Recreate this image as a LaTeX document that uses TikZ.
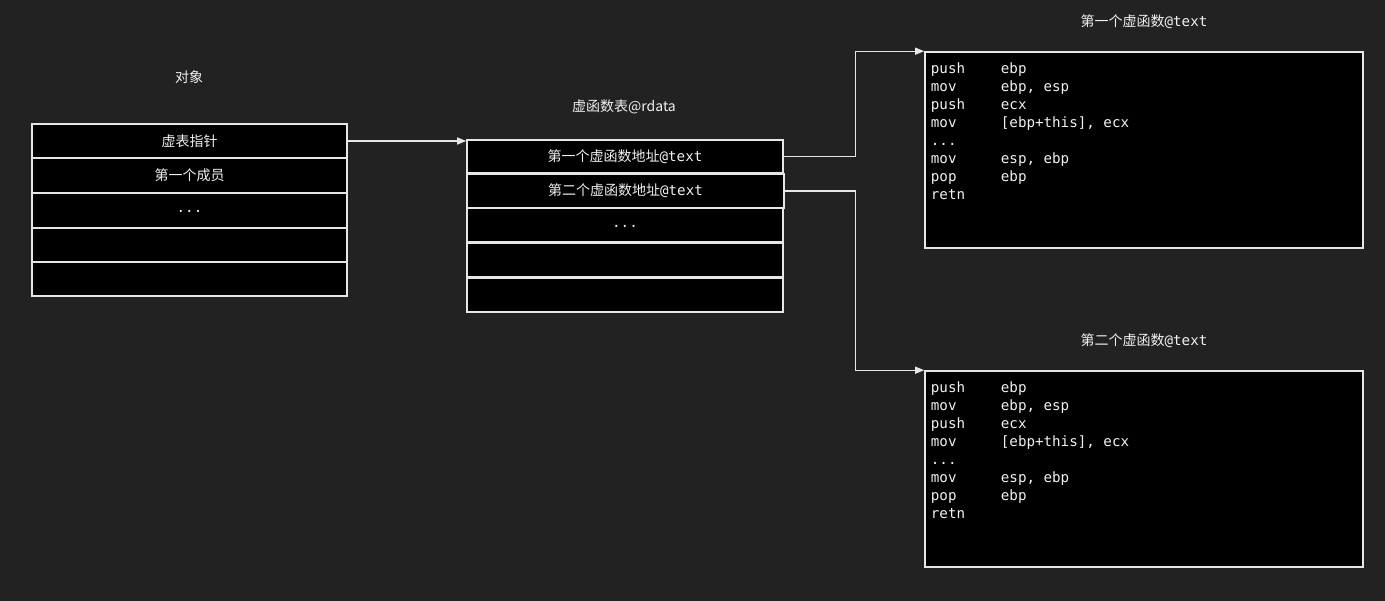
\documentclass[tikz,border=0pt]{standalone}
\usepackage{fontspec}
\usetikzlibrary{arrows.meta,calc}
\setmainfont{Noto Sans CJK SC}
\newfontfamily\cjkf{Noto Sans CJK SC}
\newfontfamily\codef{DejaVu Sans Mono}
\definecolor{bgc}{RGB}{34,34,34}
\definecolor{linec}{RGB}{230,230,230}
\definecolor{txtc}{RGB}{240,240,240}
\newcommand{\cjktxt}{\cjkf\fontsize{14}{16}\selectfont}
\newcommand{\codetxt}{\codef\fontsize{14.2}{18}\selectfont}
\newcommand{\tdots}{.{}.{}.}
\newcommand{\celldots}{\raisebox{-2.5pt}[0pt][0pt]{\codetxt\tdots}}
\begin{document}
\begin{tikzpicture}[x=1pt,y=-1pt,
  cell/.style={draw=linec,fill=black,line width=1.6pt,inner sep=0pt,text=txtc,font=\cjktxt},
  codebox/.style={draw=linec,fill=black,line width=1.6pt,inner sep=0pt,minimum width=438pt,minimum height=196pt},
  lbl/.style={text=txtc,font=\cjktxt,inner sep=0pt},
  codeln/.style={text=txtc,font=\codetxt,inner sep=0pt,anchor=base west},
  link/.style={draw=linec,line width=1.3pt,-{Triangle[length=9pt,width=7pt]}}]
\fill[bgc] (0,0) rectangle (1385,601);
\useasboundingbox (0,0) rectangle (1385,601);
% object table
\node[lbl] (tobj) at (189,77.5) {对象};
\node[cell,minimum width=315pt,minimum height=34pt] (o1) at (189.5,141) {虚表指针};
\node[cell,minimum width=315pt,minimum height=35pt] (o2) at (189.5,175.5) {第一个成员};
\node[cell,minimum width=315pt,minimum height=35pt] (o3) at (189.5,210.5) {\celldots};
\node[cell,minimum width=315pt,minimum height=34pt] (o4) at (189.5,245) {};
\node[cell,minimum width=315pt,minimum height=34pt] (o5) at (189.5,279) {};
% vtable
\node[lbl] (tvt) at (624,107) {虚函数表@rdata};
\node[cell,minimum width=316pt,minimum height=33pt] (v1) at (625,156.5) {第一个虚函数地址{\codetxt @text}};
\node[cell,minimum width=317pt,minimum height=34pt] (v2) at (625.5,191) {第二个虚函数地址{\codetxt @text}};
\node[cell,minimum width=316pt,minimum height=34pt] (v3) at (625,225) {\celldots};
\node[cell,minimum width=316pt,minimum height=34pt] (v4) at (625,260) {};
\node[cell,minimum width=316pt,minimum height=34pt] (v5) at (625,295) {};
% functions
\node[lbl] (tf1) at (1144,21.5) {第一个虚函数{\codetxt @text}};
\node[codebox] (f1) at (1144,150) {};
\node[lbl] (tf2) at (1144,340.5) {第二个虚函数{\codetxt @text}};
\node[codebox] (f2) at (1144,469) {};
\foreach \b in {f1,f2}{
  \foreach \op/\opr [count=\i] in {push/ebp, mov/{ebp, esp}, push/ecx, mov/{[ebp+this], ecx}, \tdots/{}, mov/{esp, ebp}, pop/ebp, retn/{}}{
    \node[codeln] (\b-op\i) at ($(\b.north west)+(6.5,{22+18*(\i-1)})$) {\op};
    \node[codeln] (\b-arg\i) at ($(\b.north west)+(76.5,{22+18*(\i-1)})$) {\opr};
  }
}
% connectors
\draw[link] (o1.east) -- (o1.east -| v1.west);
\draw[link] (v1.east) -- ++(72,0) |- (f1.north west);
\draw[link] (v2.east) -- ++(71,0) |- (f2.north west);
\end{tikzpicture}
\end{document}
